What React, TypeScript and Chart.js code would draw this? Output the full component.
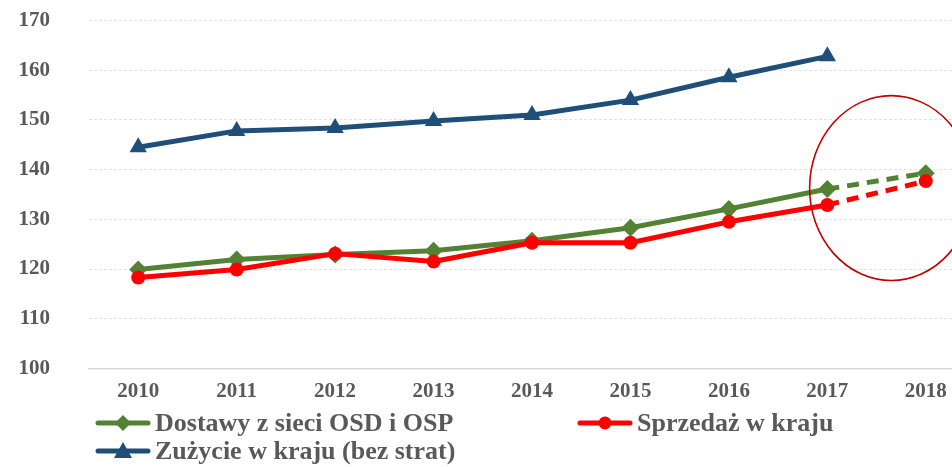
import React, { useEffect, useRef } from "react";
import { Chart, registerables } from "chart.js";

Chart.register(...registerables);

const years = ["2010", "2011", "2012", "2013", "2014", "2015", "2016", "2017", "2018"];
const dostawy = [119.9, 121.9, 122.9, 123.7, 125.7, 128.3, 132.1, 136.1, 139.3];
const sprzedaz = [118.3, 119.9, 123.1, 121.5, 125.3, 125.3, 129.5, 132.9, 137.7];
const zuzycie: (number | null)[] = [144.5, 147.8, 148.4, 149.8, 151.0, 154.0, 158.6, 162.8, null];
const seriesNames = ["Dostawy z sieci OSD i OSP", "Sprzedaż w kraju", "Zużycie w kraju (bez strat)"];
const yMin = 100;
const yMax = 170;
const yStep = 10;
// highlighted forecast region (category index / value units)
const highlight = { x: 7.65, y: 136.3, rx: 0.83, ry: 18.6 };

const GREEN = "#548235";
const RED = "#FF0000";
const BLUE = "#1F4E79";
const TEXT = "#595959";
const FONT = "'Liberation Serif', 'Times New Roman', serif";

const dashLast = (ctx: any) => (ctx.p1DataIndex === years.length - 1 ? [12, 8] : undefined);

const ellipsePlugin = {
  id: "ellipse",
  afterDatasetsDraw(chart: any) {
    const xs = chart.scales.x;
    const ys = chart.scales.y;
    const cx = xs.getPixelForValue(highlight.x);
    const cy = ys.getPixelForValue(highlight.y);
    const rx = Math.abs(xs.getPixelForValue(highlight.x + highlight.rx) - cx);
    const ry = Math.abs(ys.getPixelForValue(highlight.y + highlight.ry) - cy);
    const ctx = chart.ctx;
    ctx.save();
    ctx.beginPath();
    ctx.ellipse(cx, cy, rx, ry, 0, 0, Math.PI * 2);
    ctx.strokeStyle = "#C00000";
    ctx.lineWidth = 1.6;
    ctx.stroke();
    ctx.restore();
  },
};

function Icon({ color, marker }: { color: string; marker: string }) {
  return (
    <svg width={56} height={20} style={{ display: "block" }}>
      <line x1={3} y1={10} x2={53} y2={10} stroke={color} strokeWidth={5} strokeLinecap="round" />
      {marker === "diamond" && <polygon points="28,2 36,10 28,18 20,10" fill={color} />}
      {marker === "circle" && <circle cx={28} cy={10} r={6.5} fill={color} />}
      {marker === "triangle" && <polygon points="28,1 37,17 19,17" fill={color} />}
    </svg>
  );
}

function LegendItem({ left, top, color, marker, label }: any) {
  return (
    <div
      style={{
        position: "absolute",
        left,
        top,
        height: 30,
        display: "flex",
        alignItems: "center",
        whiteSpace: "nowrap",
      }}
    >
      <Icon color={color} marker={marker} />
      <span
        style={{
          fontFamily: FONT,
          fontWeight: "bold",
          fontSize: 26,
          color: TEXT,
          marginLeft: 4,
          lineHeight: "30px",
        }}
      >
        {label}
      </span>
    </div>
  );
}

export default function App() {
  const ref = useRef<HTMLCanvasElement | null>(null);

  useEffect(() => {
    if (!ref.current) return;
    const chart = new Chart(ref.current, {
      type: "line",
      data: {
        labels: years,
        datasets: [
          {
            label: seriesNames[0],
            data: dostawy,
            borderColor: GREEN,
            backgroundColor: GREEN,
            borderWidth: 5,
            pointStyle: "rectRot",
            pointRadius: 9,
            pointHoverRadius: 9,
            pointBorderWidth: 0,
            borderJoinStyle: "round",
            segment: { borderDash: dashLast },
            order: 1,
          },
          {
            label: seriesNames[1],
            data: sprzedaz,
            borderColor: RED,
            backgroundColor: RED,
            borderWidth: 5,
            pointStyle: "circle",
            pointRadius: 7,
            pointHoverRadius: 7,
            pointBorderWidth: 0,
            borderJoinStyle: "round",
            segment: { borderDash: dashLast },
            order: 0,
          },
          {
            label: seriesNames[2],
            data: zuzycie,
            borderColor: BLUE,
            backgroundColor: BLUE,
            borderWidth: 5,
            pointStyle: "triangle",
            pointRadius: 10,
            pointHoverRadius: 10,
            pointBorderWidth: 0,
            borderJoinStyle: "round",
            order: 2,
          },
        ],
      },
      options: {
        animation: false,
        responsive: false,
        devicePixelRatio: 1,
        layout: { padding: { top: 19, left: 0, right: 0, bottom: 0 } },
        plugins: {
          legend: { display: false },
          tooltip: { enabled: false },
        },
        scales: {
          x: {
            offset: true,
            grid: { display: false, drawTicks: false },
            border: { display: true, color: "#d9d9d9", width: 1.5 },
            ticks: {
              color: TEXT,
              padding: 11,
              font: { family: FONT, size: 21, weight: "bold" },
            },
          },
          y: {
            min: yMin,
            max: yMax,
            grid: { color: "#e2e2e2", drawTicks: false, lineWidth: 1 },
            border: { display: false, dash: [3, 2] },
            ticks: {
              stepSize: yStep,
              color: TEXT,
              padding: 39,
              font: { family: FONT, size: 21, weight: "bold" },
            },
            afterFit(scale: any) {
              scale.width = 89;
            },
          },
        },
      },
      plugins: [ellipsePlugin],
    } as any);
    return () => chart.destroy();
  }, []);

  return (
    <div
      style={{
        position: "absolute",
        left: 0,
        top: 0,
        width: 952,
        height: 467,
        overflow: "hidden",
        background: "#fff",
      }}
    >
      <canvas
        ref={ref}
        width={985}
        height={451}
        style={{ display: "block", position: "absolute", left: 0, top: -31 }}
      />
      <LegendItem left={95} top={408} color={GREEN} marker="diamond" label={seriesNames[0]} />
      <LegendItem left={577} top={408} color={RED} marker="circle" label={seriesNames[1]} />
      <LegendItem left={95} top={436} color={BLUE} marker="triangle" label={seriesNames[2]} />
    </div>
  );
}
